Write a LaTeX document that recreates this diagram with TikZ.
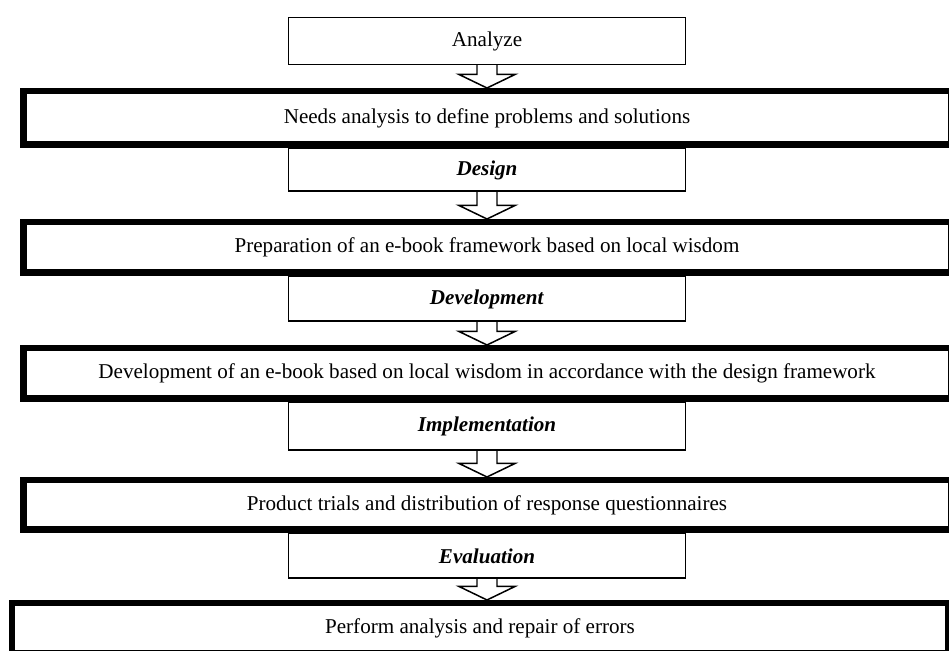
\documentclass[tikz,border=0pt]{standalone}
\usepackage{fontspec}
\setmainfont{Liberation Serif}
\usetikzlibrary{positioning,calc}

\tikzset{
  stage/.style={draw, line width=0.85pt, fill=white, inner sep=0pt,
    minimum width=7.93cm, minimum height=0.89cm, font=\fontsize{12}{14}\selectfont},
  task/.style={draw, line width=0.13cm, fill=white, inner sep=0pt,
    minimum width=18.55cm, minimum height=1.01cm, font=\fontsize{12}{14}\selectfont},
  fatarrow/.style={draw, line width=0.85pt, line join=miter},
}
\newcommand{\stagename}[1]{\textbf{\textit{#1}}}
\newcommand{\fatarrow}[2]{%
  \draw[fatarrow] let \p1=(#1.south), \p2=(#2.north) in
    (\x1-0.2cm,\y1) -- (\x1-0.2cm,\y2+0.27cm) -- (\x1-0.56cm,\y2+0.27cm)
    -- (\x1,\y2) -- (\x1+0.56cm,\y2+0.27cm) -- (\x1+0.2cm,\y2+0.27cm)
    -- (\x1+0.2cm,\y1);}

\begin{document}
\begin{tikzpicture}
                \useasboundingbox (0,0) rectangle (18.98,-13.02);
                \clip (0,0) rectangle (18.98,-13.02);

                \node[stage, minimum height=0.93cm] at (9.74,-0.82)  (analyze) {Analyze};
                \node[task, below=0.46cm of analyze, minimum height=1.07cm] (needs) {Needs analysis to define problems and solutions};
                \node[stage, below=0pt of needs, minimum height=0.85cm]    (design) {\stagename{Design}};
                \node[task, below=0.54cm of design]                          (frame) {Preparation of an e-book framework based on local wisdom};
                \node[stage, below=0pt of frame]                             (develop) {\stagename{Development}};
                \node[task, below=0.46cm of develop]                         (ebook) {Development of an e-book based on local wisdom in accordance with the design framework};
                \node[stage, below=0pt of ebook, minimum height=0.95cm]    (implement) {\stagename{Implementation}};
                \node[task, below=0.52cm of implement, minimum height=0.99cm] (trial) {Product trials and distribution of response questionnaires};
                \node[stage, below=0pt of trial]                             (evaluate) {\stagename{Evaluation}};
                \node[task, below=0.42cm of evaluate, xshift=-0.14cm, minimum width=18.73cm] (repair) {Perform analysis and repair of errors};

                \fatarrow{analyze}{needs};
                \fatarrow{design}{frame};
                \fatarrow{develop}{ebook};
                \fatarrow{implement}{trial};
                \fatarrow{evaluate}{repair};
            \end{tikzpicture}
\end{document}
